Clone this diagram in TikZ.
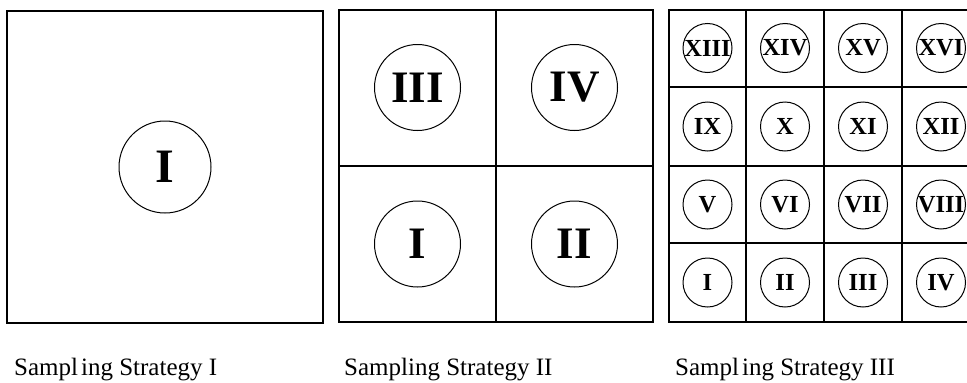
\documentclass[tikz,border=0pt]{standalone}
\usepackage{fontspec}
\setmainfont{Liberation Serif}
\begin{document}
\begin{tikzpicture}[x=1pt,y=-1pt,
  frame/.style={draw=black,line width=1.4pt},
  grid/.style={draw=black,line width=1.2pt},
  bigcirc/.style={circle,draw=black,line width=1pt,minimum size=92pt,inner sep=0pt,
    font=\fontsize{48}{50}\selectfont\bfseries},
  midcirc/.style={circle,draw=black,line width=1pt,minimum size=86pt,inner sep=0pt,
    font=\fontsize{45}{47}\selectfont\bfseries},
  smallcirc/.style={circle,draw=black,line width=1pt,minimum size=49pt,inner sep=0pt,
    font=\fontsize{24.5}{26}\selectfont\bfseries},
  caption/.style={anchor=base west,inner sep=0pt,font=\fontsize{25}{28}\selectfont}]
\useasboundingbox (0,0) rectangle (967,383);
\clip (0,0) rectangle (967,383);
% Strategy I
\node[frame,rectangle,minimum width=316pt,minimum height=312pt,inner sep=0pt] (b1) at (165,167) {};
\node[bigcirc] (s1c1) at (165,167) {I};
\node[caption] (lab1) at (14,375) {Sampl\hspace{3pt}ing Strategy I};
% Strategy II
\node[frame,rectangle,minimum width=314pt,minimum height=312pt,inner sep=0pt] (b2) at (496,166) {};
\draw[grid] (b2.north) -- (b2.south);
\draw[grid] (b2.west) -- (b2.east);
\node[midcirc] (s2c3) at (417.5,87.5) {III};
\node[midcirc] (s2c4) at (574.5,87.5) {IV};
\node[midcirc] (s2c1) at (417.5,244) {I};
\node[midcirc] (s2c2) at (574.5,244) {II};
\node[caption] (lab2) at (344,375) {Sampling Strategy II};
% Strategy III
\node[frame,rectangle,minimum width=311pt,minimum height=312pt,inner sep=0pt] (b3) at (824.5,166) {};
\coordinate (v1t) at (746,10); \coordinate (v1b) at (746,322);
\coordinate (v2t) at (824,10); \coordinate (v2b) at (824,322);
\coordinate (v3t) at (902,10); \coordinate (v3b) at (902,322);
\coordinate (h1l) at (669,87); \coordinate (h1r) at (980,87);
\coordinate (h2l) at (669,166); \coordinate (h2r) at (980,166);
\coordinate (h3l) at (669,243); \coordinate (h3r) at (980,243);
\draw[grid] (v1t) -- (v1b);
\draw[grid] (v2t) -- (v2b);
\draw[grid] (v3t) -- (v3b);
\draw[grid] (h1l) -- (h1r);
\draw[grid] (h2l) -- (h2r);
\draw[grid] (h3l) -- (h3r);
\node[smallcirc] (c13) at (707.5,48) {XIII};
\node[smallcirc] (c14) at (785,48) {XIV};
\node[smallcirc] (c15) at (863,48) {XV};
\node[smallcirc] (c16) at (941,48) {XVI};
\node[smallcirc] (c9) at (707.5,126.5) {IX};
\node[smallcirc] (c10) at (785,126.5) {X};
\node[smallcirc] (c11) at (863,126.5) {XI};
\node[smallcirc] (c12) at (941,126.5) {XII};
\node[smallcirc] (c5) at (707.5,204.5) {V};
\node[smallcirc] (c6) at (785,204.5) {VI};
\node[smallcirc] (c7) at (863,204.5) {VII};
\node[smallcirc] (c8) at (941,204.5) {VIII};
\node[smallcirc] (c1) at (707.5,282.5) {I};
\node[smallcirc] (c2) at (785,282.5) {II};
\node[smallcirc] (c3) at (863,282.5) {III};
\node[smallcirc] (c4) at (941,282.5) {IV};
\node[caption] (lab3) at (675,375) {Sampl\hspace{3pt}ing Strategy III};
\end{tikzpicture}
\end{document}
